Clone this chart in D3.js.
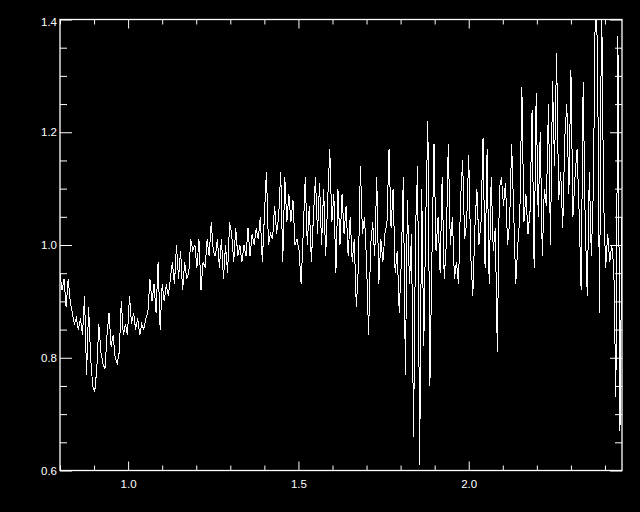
<!DOCTYPE html>
<html><head><meta charset="utf-8">
<script src="https://cdn.jsdelivr.net/npm/d3@7"></script>
<style>html,body{margin:0;padding:0;background:#000;} svg{display:block;}</style>
</head><body>
<svg id="chart" width="640" height="512"></svg>
<script>
// wavelength grid: start and step (microns)
const waveStart = 0.8, waveStep = 0.006;
// flux values, in order along the wavelength grid
const fluxA = [0.95,0.92,0.94,0.89,0.94,0.90,0.88,0.86,0.87,0.85,
  0.87,0.84,0.91,0.77,0.89,0.80,0.75,0.74,0.78,0.86,
  0.81,0.79,0.78,0.84,0.88,0.82,0.84,0.80,0.79,0.81,
  0.90,0.84,0.86,0.84,0.91,0.86,0.88,0.85,0.87,0.84,
  0.86,0.85,0.87,0.88,0.94,0.90,0.93,0.88,0.97,0.85,
  0.93,0.90,0.93,0.91,0.94,0.97,0.93];
const fluxB = [1.00,0.94,0.99,0.92,0.97,0.94,0.95,1.01,0.99,1.00,
  0.96,1.01,0.92,0.97,0.96,1.01,0.98,1.04,0.99,0.98,
  1.01,0.96,1.01,0.94,1.00,0.95,1.04,1.02,0.97,1.03,
  0.98,1.00,0.97,1.00,0.98,1.03,0.98,1.02,1.00,1.03,
  1.01,1.05,0.97,1.05,1.13,1.00,1.02,1.01,1.07,1.02,
  1.05,1.13,0.97,1.12];
const fluxC = [1.04,1.09,1.04,1.08,1.00,1.01,0.99,0.93,1.02,1.12,
  1.00,1.07,0.97,1.05,1.12,1.02,1.11,1.00,1.10,0.98,
  1.08,1.17,1.04,1.09,0.95,1.10,1.00,1.09,1.02,1.07,
  0.98,1.05,0.97,1.01,0.89,0.96,1.14,1.02,1.05,0.97,
  0.84,1.00,1.04,0.98,1.12,0.93,1.01,0.97,1.02,1.04,
  1.17,1.03,1.10,0.95];
const fluxD = [0.99,0.88,0.97,1.12,0.77,1.08,0.93,1.02,0.66,1.03,
  1.14,0.61,1.10,0.82,1.05,1.22,0.75,0.98,1.18,0.99,
  1.05,0.95,1.12,0.94,1.00,1.18,1.00,1.05,0.94,0.97,
  0.93,1.08,1.15,1.01,1.04,1.16,0.98,0.91,1.03,1.10,
  1.00,1.04,1.19,0.96,1.17,0.93,1.12,0.99,1.03,0.81,
  1.10,1.12,1.07];
const fluxE = [1.11,1.00,1.04,1.18,1.06,0.93,1.00,1.05,1.28,1.04,
  1.09,1.02,1.06,1.24,0.96,1.27,1.05,1.20,0.98,1.10,
  1.07,1.25,1.00,1.29,1.14,1.34,1.08,1.13,1.03,1.19,
  1.25,1.09,1.31,1.05,1.12,1.17,1.06,0.92,1.29,1.04,
  0.91,1.13,0.98,1.10,1.45,1.35,0.88,1.45,1.08,0.96,
  1.02,0.97,1.00,0.96,0.73,1.37,0.67,1.05,1.02];

const xMajorTicks = [1.0, 1.5, 2.0];
const xTickLabels = ["1.0", "1.5", "2.0"];
const yMajorTicks = [0.6, 0.8, 1.0, 1.2, 1.4];
const yTickLabels = ["0.6", "0.8", "1.0", "1.2", "1.4"];
const xDomain = [0.8, 2.45];
const yDomain = [0.6, 1.4];

const flux = [].concat(fluxA, fluxB, fluxC, fluxD, fluxE);
const data = flux.map((f, i) => ({w: waveStart + i * waveStep, f}));

const L = 60, R = 622, T = 19.5, B = 470.5;
const svg = d3.select("#chart");
svg.append("rect").attr("width", 640).attr("height", 512).attr("fill", "#000");

const x = d3.scaleLinear().domain(xDomain).range([L, R]);
const y = d3.scaleLinear().domain(yDomain).range([B, T]);

svg.append("defs").append("clipPath").attr("id", "clip")
  .append("rect").attr("x", L).attr("y", T).attr("width", R - L).attr("height", B - T);

const xMinor = d3.range(0.8, 2.45, 0.1).map(v => +v.toFixed(2)).filter(v => !xMajorTicks.some(m => Math.abs(m - v) < 1e-6));
const yMinor = d3.range(0.6, 1.4001, 0.05).map(v => +v.toFixed(2)).filter(v => !yMajorTicks.some(m => Math.abs(m - v) < 1e-6));

const fontFam = "'Liberation Sans', Arial, sans-serif";
function styleAxis(g) {
  g.select(".domain").remove();
  g.selectAll("line").attr("stroke", "#fff").attr("stroke-width", 1);
  g.selectAll("text").attr("fill", "#fff").attr("font-family", fontFam).attr("font-size", 11.5);
  g.attr("font-family", fontFam);
}

// bottom axis
const xLabel = v => xTickLabels[xMajorTicks.indexOf(v)] || "";
svg.append("g").attr("transform", `translate(0,${B})`)
  .call(d3.axisBottom(x).tickValues(xMajorTicks).tickSize(-9).tickSizeOuter(0).tickFormat(xLabel))
  .call(styleAxis)
  .call(g => g.selectAll("text").attr("y", 17).attr("dy", null));
svg.append("g").attr("transform", `translate(0,${B})`)
  .call(d3.axisBottom(x).tickValues(xMinor).tickSize(-5).tickSizeOuter(0).tickFormat(""))
  .call(styleAxis);
// top axis
svg.append("g").attr("transform", `translate(0,${T})`)
  .call(d3.axisTop(x).tickValues(xMajorTicks).tickSize(-9).tickSizeOuter(0).tickFormat(""))
  .call(styleAxis);
svg.append("g").attr("transform", `translate(0,${T})`)
  .call(d3.axisTop(x).tickValues(xMinor).tickSize(-5).tickSizeOuter(0).tickFormat(""))
  .call(styleAxis);
// left axis
const yLabel = v => yTickLabels[yMajorTicks.indexOf(v)] || "";
svg.append("g").attr("transform", `translate(${L},0)`)
  .call(d3.axisLeft(y).tickValues(yMajorTicks).tickSize(-12).tickSizeOuter(0).tickPadding(3).tickFormat(yLabel))
  .call(styleAxis)
  .call(g => g.selectAll(".tick").filter(d => d === 1.4).select("text").attr("dy", "0.65em").attr("y", -1));
svg.append("g").attr("transform", `translate(${L},0)`)
  .call(d3.axisLeft(y).tickValues(yMinor).tickSize(-7).tickSizeOuter(0).tickFormat(""))
  .call(styleAxis);
// right axis
svg.append("g").attr("transform", `translate(${R},0)`)
  .call(d3.axisRight(y).tickValues(yMajorTicks).tickSize(-12).tickSizeOuter(0).tickFormat(""))
  .call(styleAxis);
svg.append("g").attr("transform", `translate(${R},0)`)
  .call(d3.axisRight(y).tickValues(yMinor).tickSize(-7).tickSizeOuter(0).tickFormat(""))
  .call(styleAxis);

// frame
svg.append("rect").attr("x", L).attr("y", T).attr("width", R - L).attr("height", B - T)
  .attr("fill", "none").attr("stroke", "#fff").attr("stroke-width", 1.3);

// spectrum
svg.append("path").datum(data)
  .attr("clip-path", "url(#clip)")
  .attr("fill", "none").attr("stroke", "#fff").attr("stroke-width", 1)
  .attr("shape-rendering", "crispEdges")
  .attr("d", d3.line().x(d => x(d.w)).y(d => y(d.f)));
</script>
</body></html>
